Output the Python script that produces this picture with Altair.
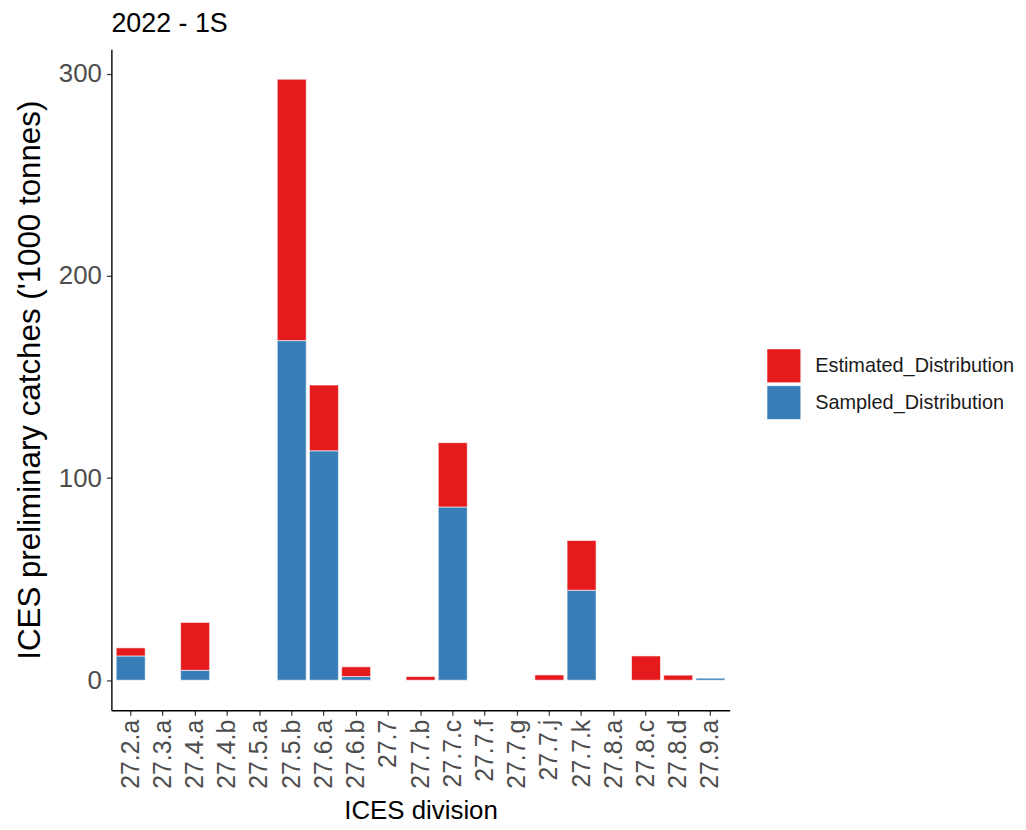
import altair as alt
import pandas as pd

divisions = ["27.2.a", "27.3.a", "27.4.a", "27.4.b", "27.5.a", "27.5.b", "27.6.a",
             "27.6.b", "27.7", "27.7.b", "27.7.c", "27.7.f", "27.7.g", "27.7.j",
             "27.7.k", "27.8.a", "27.8.c", "27.8.d", "27.9.a"]
sampled = [12.0, 0, 4.9, 0, 0, 168.0, 113.5, 1.8, 0, 0, 85.7, 0, 0, 0, 44.5, 0, 0, 0, 1.0]
estimated = [4.0, 0, 23.7, 0, 0, 129.3, 32.5, 4.8, 0, 1.8, 31.8, 0, 0, 2.6, 24.6, 0, 12.0, 2.5, 0]

series_names = ["Estimated_Distribution", "Sampled_Distribution"]
series_colors = ["#E41A1C", "#377EB8"]

rows = []
for d, s, e in zip(divisions, sampled, estimated):
    if s > 0:
        rows.append({"division": d, "type": "Sampled_Distribution", "value": s, "ord": 1})
    if e > 0:
        rows.append({"division": d, "type": "Estimated_Distribution", "value": e, "ord": 2})
df = pd.DataFrame(rows)

totals = [s + e for s, e in zip(sampled, estimated)]
ymax = max(totals)
pad = 0.05 * ymax

FONT = "Liberation Sans"

chart = alt.Chart(df).mark_bar(stroke="white", strokeWidth=0.6).encode(
    x=alt.X("division:N",
            scale=alt.Scale(domain=divisions, paddingInner=0.1, paddingOuter=0.15),
            axis=alt.Axis(title="ICES division", labelAngle=270, labelAlign="right",
                          labelBaseline="middle", labelFontSize=25, labelColor="#4D4D4D",
                          labelPadding=4, titleFontSize=26, titleColor="#000000",
                          titleFontWeight="normal", titlePadding=9,
                          domainColor="#000000", domainWidth=1.4,
                          tickColor="#333333", tickSize=5, tickWidth=1.2)),
    y=alt.Y("value:Q", stack="zero",
            scale=alt.Scale(domain=[-pad, ymax + pad], nice=False, zero=False),
            axis=alt.Axis(title="ICES preliminary catches ('1000 tonnes)", values=[0, 100, 200, 300],
                          grid=False, labelFontSize=26, labelColor="#4D4D4D", labelPadding=5,
                          titleFontSize=31.5, titleColor="#000000", titleFontWeight="normal",
                          titlePadding=12, domainColor="#000000", domainWidth=1.4,
                          tickColor="#333333", tickSize=5, tickWidth=1.2)),
    color=alt.Color("type:N",
                    scale=alt.Scale(domain=series_names, range=series_colors),
                    legend=alt.Legend(title=None, orient="none", legendX=659, legendY=301,
                                      symbolType="square", symbolSize=1156,
                                      symbolStrokeColor="white", symbolStrokeWidth=0.6,
                                      symbolOpacity=1, labelFontSize=20, labelColor="#1A1A1A",
                                      labelOffset=14, rowPadding=0, labelLimit=0)),
    order=alt.Order("ord:Q", sort="ascending"),
).properties(
    width=622,
    height=665,
    title=alt.TitleParams("2022 - 1S", anchor="start", frame="group", fontSize=27,
                          fontWeight="normal", color="#000000", offset=11),
    autosize=alt.AutoSizeParams(type="none"),
    padding={"left": 104, "top": 39, "right": 290, "bottom": 112},
).configure(
    font=FONT
).configure_view(
    stroke=None
)

chart.save("out.html", embed_options={"renderer": "svg", "actions": False})
